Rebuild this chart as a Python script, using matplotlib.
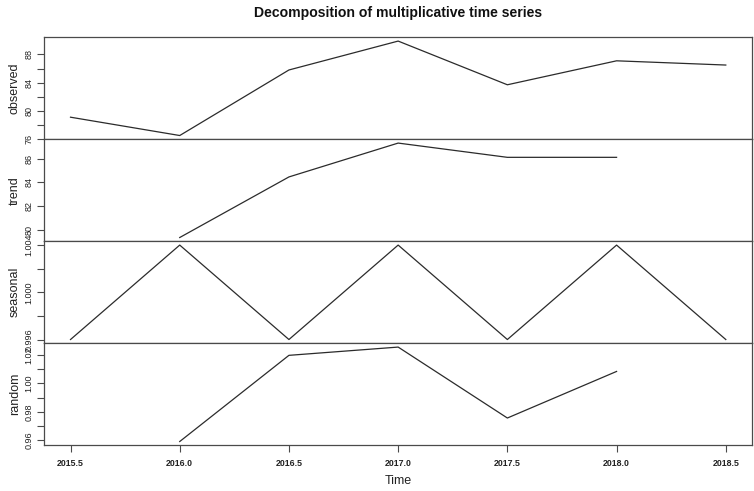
import numpy as np
import matplotlib
matplotlib.use("Agg")
import matplotlib.pyplot as plt
import matplotlib.transforms as mtransforms

plt.rcParams['font.family'] = ['Liberation Sans', 'DejaVu Sans']

# Half-yearly series, 2015.5 .. 2018.5
time = [2015.5, 2016.0, 2016.5, 2017.0, 2017.5, 2018.0, 2018.5]
observed = [79.1, 76.5, 85.8, 89.9, 83.7, 87.1, 86.5]
trend = [np.nan, 79.35, 84.45, 87.3, 86.1, 86.1, np.nan]
seasonal = [0.996, 1.004, 0.996, 1.004, 0.996, 1.004, 0.996]
random_part = [np.nan, 0.9592, 1.0197, 1.0255, 0.9757, 1.0084, np.nan]

panel_names = ["observed", "trend", "seasonal", "random"]
panel_ticks = [
    [76, 78, 80, 82, 84, 86, 88],
    [80, 82, 84, 86],
    [0.996, 0.998, 1.000, 1.002, 1.004],
    [0.96, 0.97, 0.98, 0.99, 1.00, 1.01, 1.02],
]
panel_ticklabels = [
    ["76", "", "80", "", "84", "", "88"],
    ["80", "82", "84", "86"],
    ["0.996", "", "1.000", "", "1.004"],
    ["0.96", "", "0.98", "", "1.00", "", "1.02"],
]
x_ticks = [2015.5, 2016.0, 2016.5, 2017.0, 2017.5, 2018.0, 2018.5]
x_ticklabels = ["2015.5", "2016.0", "2016.5", "2017.0", "2017.5", "2018.0", "2018.5"]

series = [observed, trend, seasonal, random_part]

W, H = 754, 491
fig = plt.figure(figsize=(W / 100, H / 100), dpi=100)
left, right = 44.3 / W, 752 / W
top_px, bot_px = 37.3, 445.3
ph = (bot_px - top_px) / 4

frame_col = "#4a4a4a"
line_col = "#2b2b2b"
text_col = "#222222"

# x range: data span plus 4% on each side
span = time[-1] - time[0]
xlim = (time[0] - 0.04 * span, time[-1] + 0.04 * span)

axes = []
for i, (name, vals) in enumerate(zip(panel_names, series)):
    y_top = top_px + i * ph
    ax = fig.add_axes([left, 1 - (y_top + ph) / H, right - left, ph / H])
    ax.plot(time, vals, color=line_col, lw=0.9)
    ax.margins(y=0.04)
    ax.set_xlim(*xlim)
    ax.set_yticks(panel_ticks[i])
    ax.set_yticklabels(panel_ticklabels[i], rotation=90, va="center")
    ax.tick_params(axis="y", length=5, width=0.8, color=frame_col,
                   labelsize=6.5, pad=3, labelcolor=text_col)
    ax.set_ylabel(name, fontsize=9, color=text_col)
    ax.yaxis.set_label_coords(
        21 / W, 0.5,
        transform=mtransforms.blended_transform_factory(fig.transFigure, ax.transAxes))
    for s in ax.spines.values():
        s.set_color(frame_col)
        s.set_linewidth(0.9)
    ax.set_xticks(x_ticks)
    if i < 3:
        ax.tick_params(axis="x", length=0, labelbottom=False)
    else:
        ax.set_xticklabels(x_ticklabels)
        ax.tick_params(axis="x", length=5, width=0.8, color=frame_col,
                       labelsize=6.3, pad=5, labelcolor=text_col)
        for t in ax.get_xticklabels():
            t.set_fontweight("bold")
        ax.set_xlabel("Time", fontsize=9, color=text_col, labelpad=5)
    axes.append(ax)

fig.text((44.3 + 752) / 2 / W, 1 - 12.5 / H, "Decomposition of multiplicative time series",
         ha="center", va="center", fontsize=10.1, fontweight="bold", color="#111111")

fig.savefig("out.png", dpi=100)
